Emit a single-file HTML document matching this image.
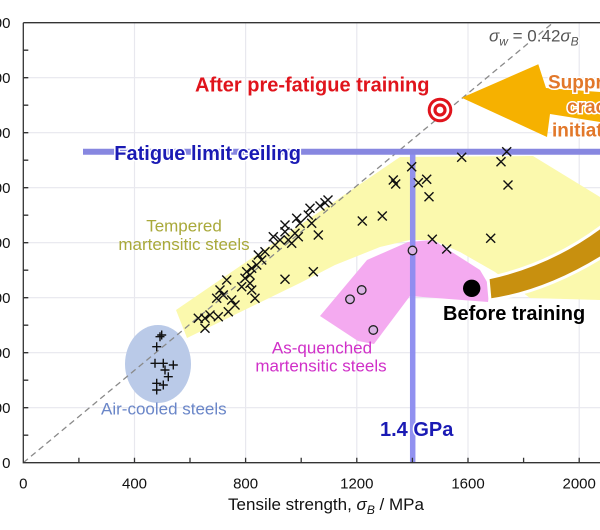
<!DOCTYPE html>
<html><head><meta charset="utf-8"><style>
html,body{margin:0;padding:0;background:#fff;}
svg{display:block;font-family:"Liberation Sans",Arial,sans-serif;}
</style></head><body>
<svg width="600" height="530" viewBox="0 0 600 530" xmlns="http://www.w3.org/2000/svg">
<rect width="600" height="530" fill="#fff"/>
<!-- grid -->
<g stroke="#e8e8ee" stroke-width="1.2">
<path d="M23.3,77.7H600M23.3,132.7H600M23.3,187.7H600M23.3,242.7H600M23.3,297.7H600M23.3,352.7H600M23.3,407.7H600"/>
<path d="M134.5,22.7V462.7M245.6,22.7V462.7M356.8,22.7V462.7M468,22.7V462.7M579.2,22.7V462.7"/>
</g>
<!-- regions -->
<polygon points="176,310 300,225 400,157 533,156 600,197 600,300 530,298 495,272 460,252 433,240 410,240 380,247 335,265 300,283 187,338" fill="#fbf9ad"/>
<polygon points="320,316 367,260 408,242 433,240 480,270 490,287 488,302 410,296 374,344 358,341" fill="#f4aaf0"/>
<ellipse cx="158" cy="364" rx="33" ry="39" fill="#bacae8"/>
<!-- dashed 0.42 line -->
<line x1="23.3" y1="462.7" x2="553" y2="22.7" stroke="#8a8a8a" stroke-width="1.3" stroke-dasharray="6,4"/>
<!-- brown arc band -->
<path d="M488,278 Q550,265 602,226 L602,257 Q545,292 490,300 Z" fill="#c8900f" stroke="#fff" stroke-width="3"/>
<!-- orange arrow -->
<polygon points="461.7,97.7 538.3,64.3 546,88 600,92 600,122 550,114 547,137" fill="#f6b100"/>
<!-- blue limit lines -->
<line x1="83" y1="151.7" x2="600" y2="151.7" stroke="#8787e0" stroke-width="6"/>
<line x1="412.7" y1="154.5" x2="412.7" y2="462.7" stroke="#8c8cf0" stroke-width="5.5" opacity="0.95"/>
<!-- axes -->
<g stroke="#333" stroke-width="1.3" fill="none">
<path d="M23.3,22.7V462.7H600"/>
<path d="M23.3,22.7H600"/>
<path d="M78.9,462.7v-5M134.5,462.7v-5M190,462.7v-5M245.6,462.7v-5M301.2,462.7v-5M356.8,462.7v-5M412.4,462.7v-5M468,462.7v-5M523.6,462.7v-5M579.2,462.7v-5"/>
<path d="M23.3,435.2h5M23.3,407.7h5M23.3,380.2h5M23.3,352.7h5M23.3,325.2h5M23.3,297.7h5M23.3,270.2h5M23.3,242.7h5M23.3,215.2h5M23.3,187.7h5M23.3,160.2h5M23.3,132.7h5M23.3,105.2h5M23.3,77.7h5M23.3,50.2h5"/>
</g>
<!-- x markers -->
<path stroke="#111" stroke-width="1.4" fill="none" d="
M457.2,152.8l9,9m0,-9l-9,9 M496.5,157.2l9,9m0,-9l-9,9 M502.2,147.2l9,9m0,-9l-9,9 M503.5,180.5l9,9m0,-9l-9,9
M407.2,162.2l9,9m0,-9l-9,9 M388.8,175.5l9,9m0,-9l-9,9 M391.2,179.5l9,9m0,-9l-9,9 M413.8,178.2l9,9m0,-9l-9,9
M422.2,174.8l9,9m0,-9l-9,9 M424.5,192.2l9,9m0,-9l-9,9 M357.8,216.5l9,9m0,-9l-9,9 M377.8,211.5l9,9m0,-9l-9,9
M427.8,234.8l9,9m0,-9l-9,9 M442.2,244.5l9,9m0,-9l-9,9 M486.2,233.8l9,9m0,-9l-9,9
M320.5,198.2l9,9m0,-9l-9,9 M315.5,201.5l9,9m0,-9l-9,9 M305.5,203.8l9,9m0,-9l-9,9 M303.8,210.5l9,9m0,-9l-9,9
M292.2,213.8l9,9m0,-9l-9,9 M295.5,218.8l9,9m0,-9l-9,9 M280.5,220.5l9,9m0,-9l-9,9 M307.2,218.8l9,9m0,-9l-9,9
M280.5,227.2l9,9m0,-9l-9,9 M290.5,228.8l9,9m0,-9l-9,9 M313.8,230.5l9,9m0,-9l-9,9 M268.8,232.2l9,9m0,-9l-9,9
M275.5,235.5l9,9m0,-9l-9,9 M283.8,235.5l9,9m0,-9l-9,9 M287.2,238.8l9,9m0,-9l-9,9 M270.5,240.5l9,9m0,-9l-9,9
M260.5,247.2l9,9m0,-9l-9,9 M253.8,250.5l9,9m0,-9l-9,9 M257.2,255.5l9,9m0,-9l-9,9 M252.2,260.5l9,9m0,-9l-9,9
M247.2,263.8l9,9m0,-9l-9,9 M242.2,267.2l9,9m0,-9l-9,9 M245.5,270.5l9,9m0,-9l-9,9 M240.5,273.8l9,9m0,-9l-9,9
M245.5,278.8l9,9m0,-9l-9,9 M237.2,282.2l9,9m0,-9l-9,9 M247.2,285.5l9,9m0,-9l-9,9 M308.8,267.2l9,9m0,-9l-9,9
M280.5,274.8l9,9m0,-9l-9,9 M222.2,275.5l9,9m0,-9l-9,9 M215.5,285.5l9,9m0,-9l-9,9 M218.8,290.5l9,9m0,-9l-9,9
M212.2,293.8l9,9m0,-9l-9,9 M227.2,295.5l9,9m0,-9l-9,9 M230.5,300.5l9,9m0,-9l-9,9 M250.5,293.8l9,9m0,-9l-9,9
M223.8,307.2l9,9m0,-9l-9,9 M213.8,312.2l9,9m0,-9l-9,9 M205.5,310.5l9,9m0,-9l-9,9 M200.5,313.8l9,9m0,-9l-9,9
M193.8,313.8l9,9m0,-9l-9,9 M200.5,323.8l9,9m0,-9l-9,9 M323.5,195.5l9,9m0,-9l-9,9 M293.8,232.2l9,9m0,-9l-9,9"/>
<!-- + markers -->
<path stroke="#111" stroke-width="1.4" fill="none" d="
M155.5,336.7h9M160,332.2v9 M157.2,335h9M161.7,330.5v9 M152.2,346.7h9M156.7,342.2v9 M150.5,363.3h9M155,358.8v9
M158.8,363.3h9M163.3,358.8v9 M168.8,365h9M173.3,360.5v9 M160.5,370h9M165,365.5v9 M163.8,376.7h9M168.3,372.2v9
M152.2,383.3h9M156.7,378.8v9 M158.8,385h9M163.3,380.5v9 M152.2,390h9M156.7,385.5v9"/>
<!-- as-quenched circles -->
<g fill="#d9b3e3" stroke="#222" stroke-width="1.3">
<circle cx="412.5" cy="250.5" r="4.3"/><circle cx="350" cy="299.3" r="4.3"/>
<circle cx="361.7" cy="290" r="4.3"/><circle cx="373.3" cy="330" r="4.3"/>
</g>
<!-- before training dot -->
<circle cx="471.7" cy="288.3" r="8.7" fill="#000"/>
<!-- target -->
<circle cx="440" cy="110" r="12.3" fill="#e0141c"/>
<circle cx="440" cy="110" r="9.3" fill="#fff"/>
<circle cx="440" cy="110" r="6.6" fill="#e0141c"/>
<circle cx="440" cy="110" r="3.4" fill="#fff"/>
<!-- texts -->
<g font-size="15" fill="#111" text-anchor="end">
<text x="10.5" y="28">800</text><text x="10.5" y="83">700</text><text x="10.5" y="138">600</text>
<text x="10.5" y="193">500</text><text x="10.5" y="248">400</text><text x="10.5" y="303">300</text>
<text x="10.5" y="358">200</text><text x="10.5" y="413">100</text><text x="10.5" y="468">0</text>
</g>
<g font-size="15" fill="#111" text-anchor="middle">
<text x="23.3" y="488.5">0</text><text x="134.5" y="488.5">400</text><text x="245.6" y="488.5">800</text>
<text x="356.8" y="488.5">1200</text><text x="468" y="488.5">1600</text><text x="579.2" y="488.5">2000</text>
</g>
<text x="326" y="510" font-size="17" fill="#111" text-anchor="middle">Tensile strength, <tspan font-style="italic">σ</tspan><tspan font-style="italic" font-size="12" dy="4">B</tspan><tspan dy="-4"> / MPa</tspan></text>
<text x="489" y="41.5" font-size="17" fill="#555" stroke="#fff" stroke-width="3" paint-order="stroke"><tspan font-style="italic">σ</tspan><tspan font-style="italic" font-size="12" dy="4">w</tspan><tspan dy="-4"> = 0.42</tspan><tspan font-style="italic">σ</tspan><tspan font-style="italic" font-size="12" dy="4">B</tspan></text>
<text x="195" y="91.7" font-size="20" font-weight="bold" fill="#e0141c">After pre-fatigue training</text>
<text x="114.3" y="160" font-size="20" font-weight="bold" fill="#1a1ab4" stroke="#fff" stroke-width="3" paint-order="stroke">Fatigue limit ceiling</text>
<g font-size="19" font-weight="bold" fill="#e2782a" stroke="#fff" stroke-width="3" paint-order="stroke">
<text x="548" y="88.3">Suppress</text><text x="567" y="113">crack</text><text x="552" y="136.7">initiation</text>
</g>
<g font-size="17" fill="#a9a93a" text-anchor="middle">
<text x="184" y="231.7">Tempered</text><text x="184" y="250">martensitic steels</text>
</g>
<g font-size="17" fill="#d030c8" text-anchor="middle">
<text x="322" y="353.3">As-quenched</text><text x="321" y="371.7">martensitic steels</text>
</g>
<text x="101" y="414.5" font-size="17" fill="#6a86c8">Air-cooled steels</text>
<text x="380" y="436" font-size="20" font-weight="bold" fill="#1a1ab4" stroke="#fff" stroke-width="3" paint-order="stroke">1.4 GPa</text>
<text x="443" y="320" font-size="20" font-weight="bold" fill="#000">Before training</text>
</svg>
</body></html>
